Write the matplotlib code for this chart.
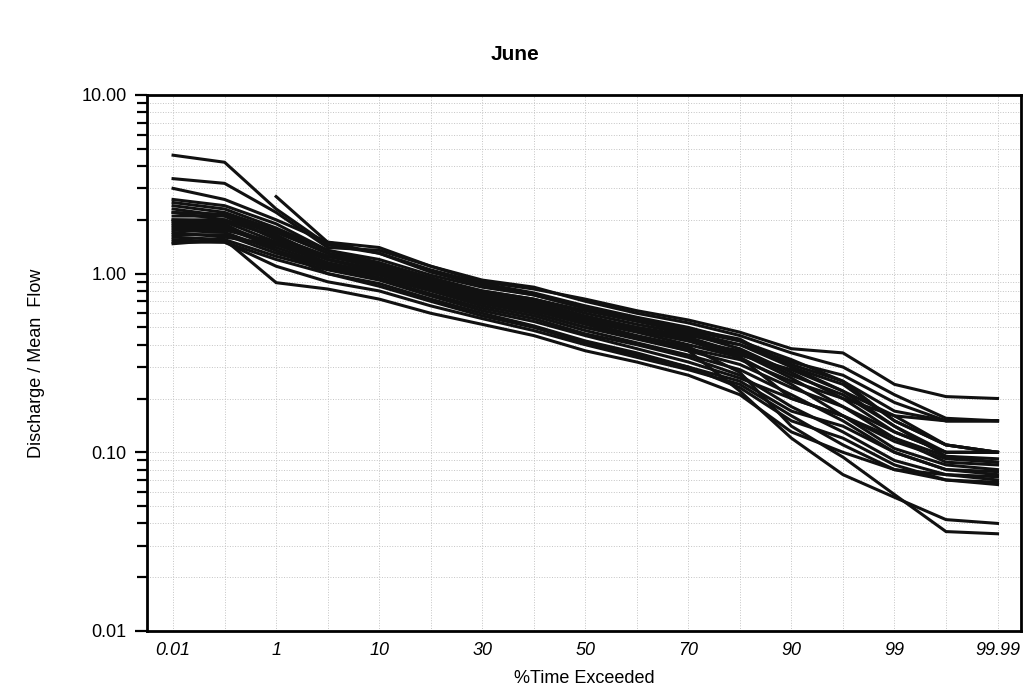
import matplotlib
matplotlib.use('Agg')
import matplotlib.pyplot as plt
import numpy as np

# exceedance percentages (plotted at equal spacing)
pct_labels = ["0.01", "0.1", "1", "5", "10", "20", "30", "40", "50",
              "60", "70", "80", "90", "95", "99", "99.9", "99.99"]
tick_labels = ["0.01", "1", "10", "30", "50", "70", "90", "99", "99.99"]

nan = np.nan
# discharge / mean flow, one list per year
curves = [
    [4.6, 4.2, 2.3, 1.45, 1.3, 1.05, 0.88, 0.78, 0.66, 0.57, 0.50, 0.42, 0.31, 0.25, 0.17, 0.15, 0.15],
    [3.4, 3.2, 2.2, 1.4, 1.35, 1.1, 0.90, 0.82, 0.72, 0.62, 0.55, 0.47, 0.38, 0.36, 0.24, 0.205, 0.20],
    [3.0, 2.6, 2.0, 1.5, 1.3, 1.02, 0.86, 0.76, 0.64, 0.55, 0.48, 0.42, 0.33, 0.25, 0.15, 0.11, 0.10],
    [nan, nan, 2.7, 1.5, 1.4, 1.1, 0.92, 0.84, 0.70, 0.60, 0.53, 0.45, 0.36, 0.30, 0.21, 0.155, 0.15],
    [2.5, 2.3, 1.8, 1.35, 1.2, 0.98, 0.84, 0.76, 0.64, 0.56, 0.49, 0.43, 0.30, 0.22, 0.16, 0.11, 0.10],
    [2.4, 2.2, 1.75, 1.3, 1.15, 0.95, 0.80, 0.72, 0.60, 0.52, 0.46, 0.38, 0.28, 0.20, 0.13, 0.10, 0.10],
    [2.2, 2.0, 1.6, 1.25, 1.12, 0.92, 0.78, 0.70, 0.58, 0.50, 0.44, 0.36, 0.26, 0.18, 0.12, 0.095, 0.088],
    [2.1, 2.1, 1.55, 1.2, 1.05, 0.88, 0.75, 0.66, 0.56, 0.48, 0.42, 0.34, 0.24, 0.16, 0.105, 0.085, 0.08],
    [2.0, 1.95, 1.5, 1.15, 1.0, 0.85, 0.72, 0.63, 0.53, 0.45, 0.39, 0.28, 0.14, 0.094, 0.058, 0.036, 0.035],
    [1.9, 1.85, 1.45, 1.15, 1.0, 0.82, 0.70, 0.62, 0.52, 0.44, 0.37, 0.22, 0.12, 0.075, 0.056, 0.042, 0.04],
    [1.85, 1.8, 1.4, 1.12, 0.98, 0.82, 0.68, 0.60, 0.50, 0.43, 0.37, 0.31, 0.23, 0.18, 0.13, 0.10, 0.10],
    [1.75, 1.7, 1.35, 1.1, 0.95, 0.80, 0.66, 0.58, 0.48, 0.41, 0.35, 0.29, 0.21, 0.15, 0.10, 0.08, 0.075],
    [1.65, 1.65, 1.3, 1.08, 0.93, 0.77, 0.64, 0.56, 0.46, 0.40, 0.34, 0.27, 0.18, 0.13, 0.09, 0.075, 0.07],
    [1.6, 1.55, 1.25, 1.05, 0.92, 0.75, 0.62, 0.54, 0.45, 0.38, 0.32, 0.26, 0.20, 0.16, 0.115, 0.092, 0.088],
    [1.5, 1.5, 1.2, 1.0, 0.88, 0.72, 0.60, 0.51, 0.42, 0.36, 0.30, 0.23, 0.15, 0.12, 0.085, 0.07, 0.066],
    [1.47, 1.55, 0.89, 0.82, 0.72, 0.60, 0.52, 0.45, 0.37, 0.32, 0.27, 0.21, 0.13, 0.10, 0.08, 0.07, 0.068],
    [1.55, 1.5, 1.1, 0.9, 0.80, 0.66, 0.56, 0.48, 0.40, 0.34, 0.29, 0.24, 0.16, 0.11, 0.08, 0.075, 0.073],
    [2.2, 2.15, 1.7, 1.3, 1.1, 0.90, 0.76, 0.68, 0.57, 0.50, 0.45, 0.40, 0.30, 0.24, 0.15, 0.11, 0.10],
    [2.0, 2.0, 1.6, 1.25, 1.08, 0.86, 0.73, 0.65, 0.55, 0.48, 0.42, 0.37, 0.27, 0.21, 0.14, 0.10, 0.10],
    [1.8, 1.75, 1.5, 1.2, 1.02, 0.84, 0.70, 0.60, 0.50, 0.44, 0.38, 0.33, 0.25, 0.20, 0.16, 0.15, 0.15],
    [2.3, 2.1, 1.65, 1.2, 1.05, 0.86, 0.74, 0.64, 0.54, 0.47, 0.40, 0.34, 0.20, 0.16, 0.12, 0.088, 0.085],
    [1.7, 1.6, 1.45, 1.25, 1.1, 0.90, 0.78, 0.68, 0.56, 0.49, 0.43, 0.35, 0.29, 0.22, 0.14, 0.095, 0.092],
    [2.6, 2.4, 1.9, 1.35, 1.15, 0.92, 0.80, 0.72, 0.62, 0.54, 0.47, 0.40, 0.32, 0.27, 0.19, 0.15, 0.15],
    [1.95, 1.9, 1.35, 1.0, 0.85, 0.70, 0.58, 0.50, 0.41, 0.35, 0.30, 0.25, 0.17, 0.14, 0.10, 0.08, 0.078],
]

plt.rcParams['font.family'] = ['Liberation Sans', 'DejaVu Sans']

fig = plt.figure(figsize=(10.3, 6.98), dpi=100)
ax = fig.add_axes([0.143, 0.096, 0.848, 0.768])

xpos = np.arange(len(pct_labels))
for c in curves:
    ax.plot(xpos, c, color='#111111', linewidth=2.2, solid_joinstyle='miter')

ax.set_yscale('log')
ax.set_ylim(0.01, 10)
ax.set_xlim(-0.5, 16.45)

ax.set_yticks([0.01, 0.1, 1, 10])
ax.set_yticklabels(["0.01", "0.10", "1.00", "10.00"], fontsize=13)
ax.set_xticks([pct_labels.index(t) for t in tick_labels])
ax.set_xticklabels(tick_labels, fontsize=13, style='italic')
ax.set_xticks(xpos, minor=True)

ax.tick_params(axis='x', which='both', length=0, pad=8)
ax.tick_params(axis='y', which='major', direction='out', length=9, width=1.6, pad=6)
ax.tick_params(axis='y', which='minor', direction='out', length=7, width=1.6, labelleft=False)

ax.grid(True, which='both', axis='both', color='#c4c4c4', linestyle=':', linewidth=0.7)

for s in ax.spines.values():
    s.set_linewidth(2.0)

ax.set_xlabel("%Time Exceeded", fontsize=13, labelpad=8)
ax.set_ylabel("Discharge / Mean  Flow", fontsize=13, labelpad=26)
fig.suptitle("June", fontsize=15, fontweight='bold', y=0.935)

plt.savefig("out.png", dpi=100, facecolor='#FFFFFF')
plt.close()
